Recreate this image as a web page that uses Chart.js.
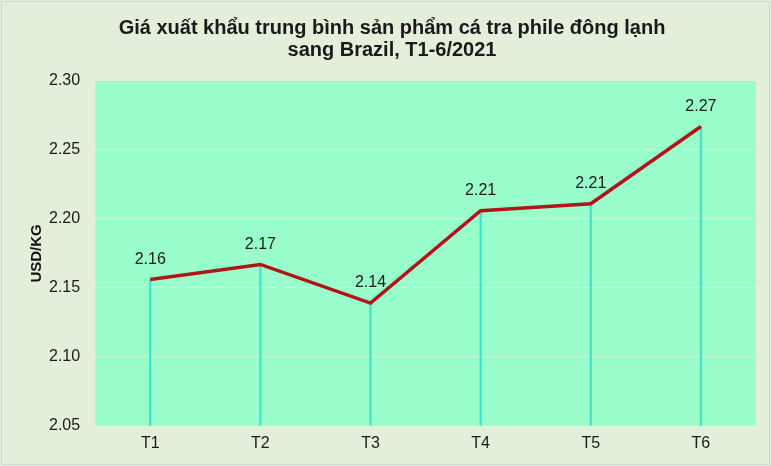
<!DOCTYPE html>
<html>
<head>
<meta charset="utf-8">
<script src="https://cdn.jsdelivr.net/npm/chart.js@4"></script>
<style>
html,body{margin:0;padding:0;background:#fff;}
#wrap{width:771px;height:466px;}
</style>
</head>
<body>
<div id="wrap"><canvas id="c" width="771" height="466"></canvas></div>
<script>
const categories = ["T1", "T2", "T3", "T4", "T5", "T6"];
const prices = [2.156, 2.167, 2.139, 2.206, 2.211, 2.267];
const yTicks = [2.05, 2.10, 2.15, 2.20, 2.25, 2.30];
const titleLines = ["Giá xuất khẩu trung bình sản phẩm cá tra phile đông lạnh", "sang Brazil, T1-6/2021"];
const yTitle = "USD/KG";

const bgPlugin = {
  id: 'bg',
  beforeDraw(chart) {
    const {ctx, chartArea: a, width, height} = chart;
    ctx.save();
    ctx.fillStyle = '#e3eedb';
    ctx.fillRect(0, 0, width, height);
    ctx.strokeStyle = '#d2d8cf';
    ctx.lineWidth = 1;
    ctx.strokeRect(1.5, 1.5, width - 3, height - 3);
    ctx.fillStyle = '#99fecb';
    ctx.fillRect(a.left, a.top, a.right - a.left, a.bottom - a.top);
    ctx.restore();
  }
};

const labelPlugin = {
  id: 'vals',
  afterDatasetsDraw(chart) {
    const ctx = chart.ctx;
    const meta = chart.getDatasetMeta(1);
    ctx.save();
    ctx.font = '16px "Liberation Sans", Arial, sans-serif';
    ctx.fillStyle = '#1a1a1a';
    ctx.textAlign = 'center';
    ctx.textBaseline = 'bottom';
    meta.data.forEach((pt, i) => {
      ctx.fillText(prices[i].toFixed(2), pt.x, pt.y - 12);
    });
    ctx.restore();
  }
};

new Chart(document.getElementById('c'), {
  data: {
    labels: categories,
    datasets: [
      {
        type: 'bar',
        data: prices,
        backgroundColor: '#3fe3cc',
        barThickness: 1.5,
        order: 2
      },
      {
        type: 'line',
        data: prices,
        borderColor: '#b01519',
        borderWidth: 3.5,
        pointRadius: 0,
        tension: 0,
        order: 1
      }
    ]
  },
  options: {
    responsive: false,
    animation: false,
    devicePixelRatio: 1,
    layout: { padding: { left: 28, right: 15, top: 9, bottom: 13 } },
    plugins: {
      legend: { display: false },
      tooltip: { enabled: false },
      title: {
        display: true,
        text: titleLines,
        color: '#1a1a1a',
        font: { family: '"Liberation Sans", Arial, sans-serif', size: 20, weight: 'bold', lineHeight: 1.1 },
        padding: { top: 8, bottom: 20 }
      }
    },
    scales: {
      x: {
        offset: true,
        grid: { display: false },
        border: { display: false },
        ticks: {
          color: '#1a1a1a',
          font: { family: '"Liberation Sans", Arial, sans-serif', size: 16 },
          padding: 0
        }
      },
      y: {
        min: 2.05,
        max: 2.30,
        afterBuildTicks(axis) { axis.ticks = yTicks.map(v => ({ value: v })); },
        grid: {
          color: (c) => (c.tick && (c.tick.value <= 2.05 || c.tick.value >= 2.30)) ? 'rgba(0,0,0,0)' : '#bff9dc',
          drawTicks: false,
          lineWidth: 1
        },
        border: { display: false },
        ticks: {
          color: '#1a1a1a',
          font: { family: '"Liberation Sans", Arial, sans-serif', size: 16 },
          padding: 15,
          callback: (v) => Number(v).toFixed(2)
        },
        title: {
          display: true,
          text: yTitle,
          color: '#111',
          font: { family: '"Liberation Sans", Arial, sans-serif', size: 15, weight: 'bold' },
          padding: { top: 0, bottom: -12 }
        }
      }
    }
  },
  plugins: [bgPlugin, labelPlugin]
});
</script>
</body>
</html>
